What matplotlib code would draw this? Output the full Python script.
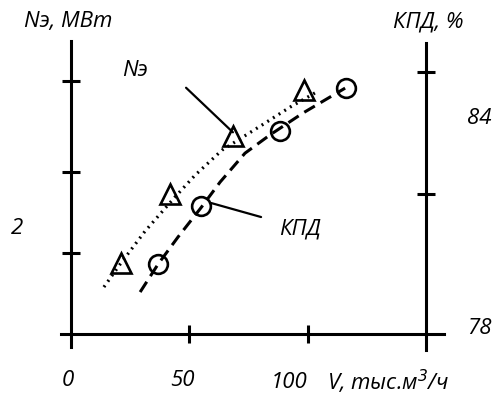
import matplotlib
matplotlib.use("Agg")
import matplotlib.pyplot as plt

# Nэ (MW) and efficiency (%) against flow V (thousand m3/h)
tri_v = [21.1, 41.8, 68.4, 98.5]
tri_n = [0.88, 1.73, 2.44, 3.01]
circ_v = [36.8, 54.9, 88.3, 116.2]
circ_kpd = [79.60, 80.93, 82.65, 83.63]

# fitted curves
n_curve_v = [13.9, 20.7, 31.3, 43.9, 52.4, 63.8, 80.7, 92.5, 103.9]
n_curve = [0.58, 0.86, 1.27, 1.69, 1.96, 2.27, 2.58, 2.80, 2.99]
kpd_curve_v = [29.2, 36.8, 45.2, 54.9, 63.0, 73.5, 84.1, 98.0, 115.8]
kpd_curve = [78.96, 79.60, 80.22, 80.89, 81.48, 82.14, 82.56, 83.06, 83.63]

x_ticks = [50, 100]
n_ticks = [1.0, 2.0, 3.12]
kpd_ticks = [81.2, 84]

plt.rcParams['font.family'] = ['Open Sans', 'DejaVu Sans']
plt.rcParams['font.style'] = 'italic'
fs = 16

fig = plt.figure(figsize=(4.94, 3.96), dpi=100)
ax = fig.add_axes([0, 0, 1, 1])
ax2 = ax.twinx()
ax.set_xlim(-30, 178.7)
ax.set_ylim(-0.765, 4.123)
ax2.set_ylim(76.58, 85.648)
ax.patch.set_visible(False)

lw = 2.2
for s in ['top', 'right']:
    ax.spines[s].set_visible(False)
for s in ['top', 'left', 'bottom']:
    ax2.spines[s].set_visible(False)
ax.spines['left'].set_position(('data', 0))
ax.spines['bottom'].set_position(('data', 0))
ax2.spines['right'].set_position(('data', 150))
ax.spines['left'].set_bounds(-0.16, 3.62)
ax.spines['bottom'].set_bounds(-4.2, 157.6)
ax2.spines['right'].set_bounds(77.63, 84.66)
for sp in [ax.spines['left'], ax.spines['bottom'], ax2.spines['right']]:
    sp.set_linewidth(lw)

ax.set_xticks(x_ticks)
ax.set_yticks(n_ticks)
ax2.set_yticks(kpd_ticks)
ax.set_xticklabels([])
ax.set_yticklabels([])
ax2.set_yticklabels([])
ax.tick_params(direction='inout', length=13.5, width=lw)
ax2.tick_params(direction='inout', length=13.5, width=lw)

ax.plot(n_curve_v, n_curve, color='black', lw=2.3, linestyle=(0, (0.6, 1.5)),
        dash_capstyle='butt')
ax.plot(tri_v, tri_n, linestyle='none', marker='^', markersize=15,
        mfc='none', mec='black', mew=1.9)
ax2.plot(kpd_curve_v, kpd_curve, color='black', lw=2.2, linestyle=(0, (4, 2.2)))
ax2.plot(circ_v, circ_kpd, linestyle='none', marker='o', markersize=13.5,
         mfc='none', mec='black', mew=1.9)

# leader lines
ax.annotate('', xy=(68.4, 2.49), xytext=(48.6, 3.04),
            arrowprops=dict(arrowstyle='-', lw=1.6, color='black', shrinkA=0, shrinkB=0))
ax.annotate('', xy=(80.3, 1.444), xytext=(59.2, 1.617),
            arrowprops=dict(arrowstyle='-', lw=1.6, color='black', shrinkA=0, shrinkB=0))

W, H = 494, 396
def lab(px, py, s):
    fig.text(px / W, 1 - py / H, s, fontsize=fs, ha='center', va='center')

lab(68, 21, 'Nэ, МВт')
lab(428, 22, 'КПД, %')
lab(135, 70, 'Nэ')
lab(300, 229, 'КПД')
lab(17, 229, '2')
lab(479, 119, '84')
lab(479, 328, '78')
lab(68, 381, '0')
lab(182, 381, '50')
lab(289, 382, '100')
lab(388, 382, 'V, тыс.м$^3$/ч')

fig.savefig('out.png', dpi=100)
